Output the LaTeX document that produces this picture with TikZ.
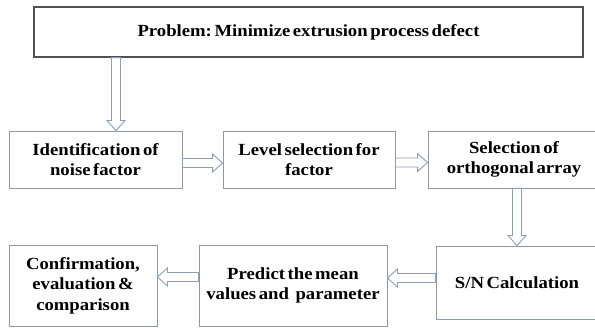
\documentclass[tikz,border=0pt]{standalone}
\usepackage{fontspec}
\setmainfont{Liberation Serif}[FakeStretch=1.1, WordSpace=0.55]
\frenchspacing
\usetikzlibrary{calc}
\definecolor{boxline}{HTML}{8C98A6}
\definecolor{topline}{HTML}{505050}
\definecolor{arrline}{HTML}{8E9DB0}
\tikzset{
  stepbox/.style={draw=boxline, line width=0.9pt, fill=white, align=center,
    font=\bfseries\fontsize{17}{20.5}\selectfont, inner sep=0pt},
  hto/.style={draw=arrline, line width=0.9pt, fill=white,
    to path={let \p1=(\tikztostart),\p2=(\tikztotarget),\n1={ifthenelse(\x2>\x1,1,-1)} in
      (\x1,\y1+4.5pt) -- (\x2-\n1*10pt,\y1+4.5pt) -- (\x2-\n1*10pt,\y1+9pt) -- (\x2,\y1)
      -- (\x2-\n1*10pt,\y1-9pt) -- (\x2-\n1*10pt,\y1-4.5pt) -- (\x1,\y1-4.5pt) -- cycle}},
  vto/.style={draw=arrline, line width=0.9pt, fill=white,
    to path={let \p1=(\tikztostart),\p2=(\tikztotarget) in
      (\x1-4.5pt,\y1) -- (\x1-4.5pt,\y2+10pt) -- (\x1-9pt,\y2+10pt) -- (\x1,\y2)
      -- (\x1+9pt,\y2+10pt) -- (\x1+4.5pt,\y2+10pt) -- (\x1+4.5pt,\y1) -- cycle}}
}
\begin{document}
\begin{tikzpicture}[x=1pt,y=-1pt]
\useasboundingbox[fill=white] (0,0) rectangle (595,328);
\node[stepbox, draw=topline, line width=1.2pt, minimum width=549pt, minimum height=50pt] (top) at (308.5,32) {Problem: Minimize extrusion process defect};
\node[stepbox, minimum width=173pt, minimum height=57pt] (n1) at (95.5,159.5) {Identification of\\noise factor};
\node[stepbox, minimum width=172pt, minimum height=57pt] (n2) at (309,159.5) {Level selection for\\factor};
\node[stepbox, minimum width=172pt, minimum height=57pt] (n3) at (514,159.5) {Selection of\\orthogonal array};
\node[stepbox, minimum width=162pt, minimum height=73pt] (n4) at (517,282.5) {S/N Calculation};
\node[stepbox, minimum width=188pt, minimum height=81pt] (n5) at (293,285.5) {Predict the mean\\values and\hspace{4pt} parameter};
\node[stepbox, minimum width=148pt, minimum height=81pt] (n6) at (83,285.5) {Confirmation,\\evaluation \&\\comparison};
\draw[vto] ([xshift=-192.5pt]top.south) to ([xshift=-192.5pt]top.south |- n1.north);
\draw[hto] ([yshift=-3.5pt]n1.east) to ([yshift=-3.5pt]n2.west);
\draw[hto] ([yshift=-3pt]n2.east) to ([yshift=-3pt]n3.west);
\draw[vto] ([xshift=3pt]n3.south) to ([xshift=3pt]n3.south |- n4.north);
\draw[hto] ([yshift=4.5pt]n4.west) to ([yshift=4.5pt]n4.west -| n5.east);
\draw[hto] ([yshift=8.5pt]n5.west) to ([yshift=8.5pt]n5.west -| n6.east);
\end{tikzpicture}
\end{document}
